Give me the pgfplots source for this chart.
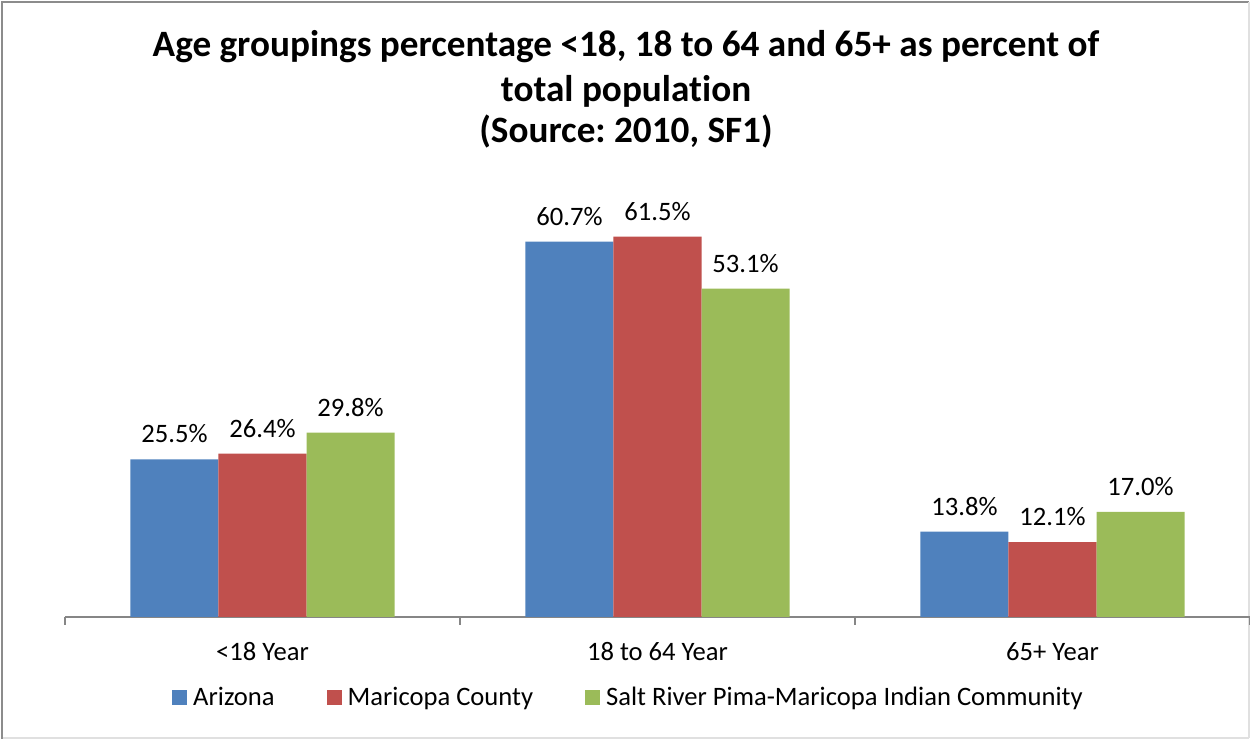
\documentclass[border=0pt]{standalone}
\usepackage{pgfplots}
\pgfplotsset{compat=1.18}
\usepackage{fontspec}
\setmainfont{Carlito}[Ligatures=NoCommon]
\frenchspacing
\definecolor{cblue}{HTML}{4F81BD}
\definecolor{cred}{HTML}{C0504D}
\definecolor{cgreen}{HTML}{9BBB59}
\definecolor{axgray}{HTML}{868686}
\begin{document}
\begin{tikzpicture}
\path[use as bounding box] (0,0) rectangle (625pt,369.5pt);
\draw[color=black!12, line width=1pt] (1pt,0.5pt) -- (624.5pt,0.5pt);
\draw[color=black!45, line width=1pt] (1pt,0pt) -- (1pt,368.5pt) -- (624.5pt,368.5pt);
\draw[color=black!12, line width=1pt] (624.5pt,0.5pt) -- (624.5pt,368.5pt);
\node[font=\fontsize{18.6}{22}\selectfont\bfseries, anchor=base, inner sep=0pt] at (313pt,341.2pt) {Age groupings percentage <18, 18 to 64 and 65+ as percent of};
\node[font=\fontsize{18.6}{22}\selectfont\bfseries, anchor=base, inner sep=0pt] at (313pt,318.7pt) {total population};
\node[font=\fontsize{18.6}{22}\selectfont\bfseries, anchor=base, inner sep=0pt] at (313pt,298pt) {(Source: 2010, SF1)};
\begin{axis}[
  at={(32.5pt,61pt)}, anchor=south west,
  scale only axis, width=592.5pt, height=216.5pt,
  xmin=-0.5, xmax=2.5, ymin=0, ymax=70,
  enlargelimits=false, clip=false,
  axis y line=none, axis x line*=bottom,
  x axis line style={draw=axgray, line width=0.8pt, -},
  xtick={-0.5,0.5,1.5,2.5}, xticklabels={},
  tick align=outside, major tick length=4pt,
  xtick style={draw=axgray, line width=0.8pt},
  extra x ticks={0,1,2},
  extra x tick labels={<18 Year, 18 to 64 Year, 65+ Year},
  extra x tick style={major tick length=0pt},
  xticklabel style={font=\fontsize{13.3}{16}\selectfont, anchor=base, yshift=-22pt},
  ybar, bar width=0.2228,
  /pgf/number format/assume math mode=true,
  nodes near coords={\pgfmathprintnumber[fixed,fixed zerofill,precision=1]{\pgfplotspointmeta}\%},
  every node near coord/.append style={font=\fontsize{13.3}{16}\selectfont, text=black, yshift=4.5pt},
  legend columns=3,
  legend style={at={(0.4764,-0.187)}, anchor=center, draw=none, fill=none,
    font=\fontsize{13.3}{16}\selectfont,
    /tikz/every odd column/.append style={column sep=1pt},
    /tikz/every even column/.append style={column sep=24pt}},
  legend image code/.code={\fill[#1] (0pt,-3.75pt) rectangle (7.5pt,3.75pt);},
]
\addplot[fill=cblue, draw=none, bar shift=-0.2228] coordinates {(0,25.5) (1,60.7) (2,13.8)};
\addplot[fill=cred, draw=none, bar shift=0] coordinates {(0,26.4) (1,61.5) (2,12.1)};
\addplot[fill=cgreen, draw=none, bar shift=0.2228] coordinates {(0,29.8) (1,53.1) (2,17.0)};
\legend{Arizona, Maricopa County, Salt River Pima-Maricopa Indian Community}
\end{axis}
\end{tikzpicture}
\end{document}
